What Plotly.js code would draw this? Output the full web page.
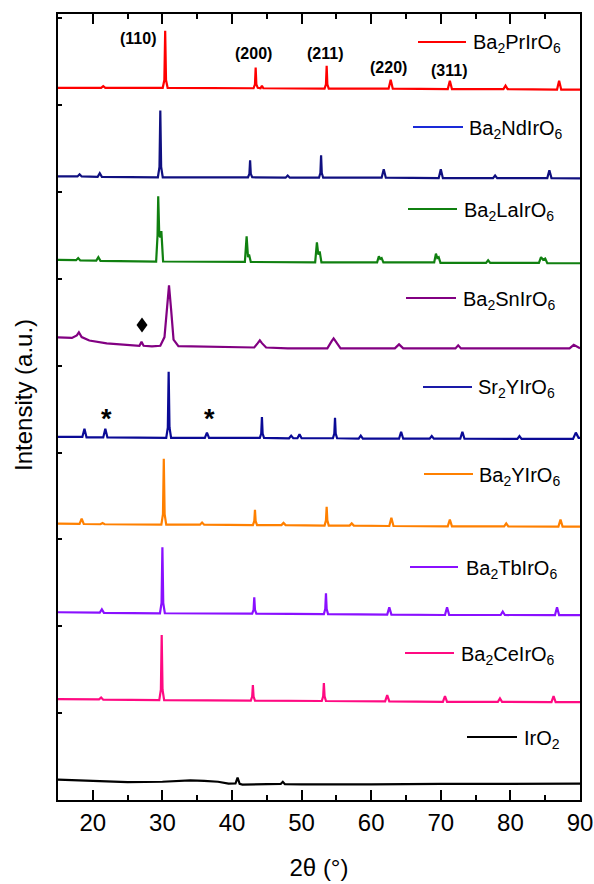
<!DOCTYPE html>
<html><head><meta charset="utf-8">
<script src="https://cdn.plot.ly/plotly-3.0.1.min.js"></script>
<style>html,body{margin:0;padding:0;background:#fff;}#chart{width:594px;height:884px;}</style>
</head><body><div id="chart"></div>
<script>
// ---- DATA (2θ in degrees, intensity normalised, a.u.) ----
const names = ["IrO<sub>2</sub>","Ba<sub>2</sub>CeIrO<sub>6</sub>","Ba<sub>2</sub>TbIrO<sub>6</sub>","Ba<sub>2</sub>YIrO<sub>6</sub>","Sr<sub>2</sub>YIrO<sub>6</sub>","Ba<sub>2</sub>SnIrO<sub>6</sub>","Ba<sub>2</sub>LaIrO<sub>6</sub>","Ba<sub>2</sub>NdIrO<sub>6</sub>","Ba<sub>2</sub>PrIrO<sub>6</sub>"];
const offsets = [0.2, 1.15, 2.15, 3.17, 4.17, 5.2, 6.2, 7.17, 8.19];

const irO2_x = [15,17,20,25,30,32,34,36,38,39.5,40.5,40.8,41.1,41.5,45,47.0,47.3,47.6,50,55,60,70,80,90];
const irO2_y = [0.035,0.028,0.015,0.005,0.01,0.02,0.025,0.02,0.01,-0.012,-0.01,0.058,-0.015,-0.023,-0.02,-0.015,0.01,-0.018,-0.02,-0.022,-0.02,-0.015,-0.015,-0.012];

const ce_x = [15,20.9,21.2,21.5,29.55,29.78,29.9,30.02,30.25,42.7,42.9,43.0,43.1,43.3,52.9,53.1,53.2,53.3,53.5,62.0,62.3,62.6,70.3,70.6,70.9,78.2,78.5,78.8,85.9,86.2,86.5,90];
const ce_y = [0.012,0.008,0.03,0.005,0,0.12,0.75,0.12,0,-0.005,0.04,0.173,0.04,-0.005,-0.01,0.045,0.196,0.045,-0.01,-0.015,0.058,-0.015,-0.02,0.046,-0.02,-0.02,0.02,-0.02,-0.022,0.046,-0.022,-0.022];

const tb_x = [15,21.0,21.3,21.6,29.65,29.88,30.0,30.12,30.35,42.9,43.1,43.2,43.3,43.5,53.2,53.4,53.5,53.6,53.8,62.3,62.6,62.9,70.6,70.9,71.2,78.6,78.9,79.2,86.4,86.7,87.0,90];
const tb_y = [0.012,0.008,0.045,0.005,0,0.12,0.76,0.12,0,-0.005,0.04,0.184,0.04,-0.005,-0.01,0.05,0.23,0.05,-0.01,-0.015,0.07,-0.015,-0.02,0.07,-0.02,-0.02,0.02,-0.02,-0.022,0.07,-0.022,-0.022];

const bay_x = [15,18.1,18.4,18.7,21.1,21.4,21.7,29.85,30.08,30.2,30.32,30.55,35.4,35.7,36.0,43.0,43.2,43.3,43.4,43.6,47.1,47.4,47.7,53.3,53.5,53.6,53.7,53.9,56.9,57.2,57.5,62.6,62.9,63.2,71.0,71.3,71.6,79.1,79.4,79.7,86.9,87.2,87.5,90];
const bay_y = [0.012,0.01,0.07,0.008,0.005,0.02,0.005,0,0.12,0.76,0.12,0,0,0.025,0,-0.005,0.04,0.17,0.04,-0.005,-0.005,0.02,-0.005,-0.01,0.05,0.207,0.05,-0.01,-0.01,0.015,-0.01,-0.015,0.08,-0.015,-0.02,0.06,-0.02,-0.02,0.015,-0.02,-0.022,0.06,-0.022,-0.022];

const sr_x = [15,18.5,18.8,19.1,21.5,21.8,22.1,30.55,30.78,30.9,31.02,31.25,36.1,36.4,36.7,44.0,44.2,44.3,44.4,44.6,48.2,48.5,48.8,49.4,49.7,50.0,54.5,54.7,54.8,54.9,55.1,58.2,58.5,58.8,64.0,64.3,64.6,68.4,68.7,69.0,72.8,73.1,73.4,81.0,81.3,81.6,89.0,89.4,89.8,90];
const sr_y = [0.01,0.01,0.105,0.005,0.005,0.105,0.005,0,0.12,0.76,0.12,0,0,0.06,0,0,0.05,0.24,0.05,0,-0.005,0.025,-0.005,-0.005,0.04,-0.005,-0.005,0.05,0.23,0.05,-0.005,-0.01,0.025,-0.01,-0.01,0.07,-0.01,-0.01,0.02,-0.01,-0.01,0.07,-0.01,-0.012,0.02,-0.012,-0.012,0.06,0.0,0.0];

const sn_x = [15,17.0,17.7,18.0,18.4,19.5,22,25,26.7,27.0,27.3,28.5,29.7,30.3,30.65,30.95,31.25,31.6,32.3,35,38,43.2,43.7,44.0,44.3,44.9,48,53.7,54.3,54.6,54.9,55.6,60,63.4,64.0,64.6,70,72.1,72.5,72.9,80,88.5,89.1,89.6,90];
const sn_y = [0.127,0.12,0.15,0.185,0.13,0.09,0.058,0.035,0.03,0.075,0.03,0.023,0.03,0.13,0.5,0.725,0.45,0.1,0.025,0.02,0.015,0.01,0.06,0.092,0.06,0.01,0.0,0.0,0.08,0.115,0.08,0.0,0.0,0.0,0.046,0.0,0.0,0.0,0.035,0.0,0.0,0.0,0.04,0.02,0.0];

const la_x = [15,17.6,17.9,18.2,20.5,20.8,21.1,25,29.1,29.3,29.4,29.55,29.7,29.85,30.1,41.85,42.1,42.3,42.45,42.7,51.95,52.2,52.4,52.6,52.85,60.85,61.1,61.3,61.5,61.75,69.05,69.3,69.5,69.7,69.95,76.5,76.8,77.1,84.1,84.4,84.7,85.0,85.3,90];
const la_y = [0.02,0.015,0.04,0.012,0.01,0.05,0.008,0.0,0,0.3,0.75,0.3,0.28,0.35,0,-0.005,0.29,0.05,0.08,-0.005,-0.01,0.22,0.08,0.115,-0.01,-0.01,0.06,0.03,0.04,-0.01,-0.01,0.09,0.04,0.05,-0.015,-0.015,0.015,-0.015,-0.015,0.05,0.02,0.035,-0.02,-0.02];

const nd_x = [15,17.8,18.1,18.4,20.7,21.0,21.3,29.35,29.58,29.7,29.82,30.05,42.3,42.5,42.6,42.7,42.9,47.7,48.0,48.3,52.5,52.7,52.8,52.9,53.1,61.5,61.8,62.1,69.7,70.0,70.3,77.5,77.8,78.1,85.3,85.6,85.9,90];
const nd_y = [0.01,0.01,0.035,0.01,0.005,0.046,0.005,0.0,0.12,0.77,0.12,0,0,0.04,0.196,0.04,0,-0.005,0.02,-0.005,-0.005,0.05,0.253,0.05,-0.005,-0.005,0.092,-0.005,-0.01,0.092,-0.01,-0.01,0.02,-0.01,-0.01,0.08,-0.01,-0.012];

const pr_x = [15,21.2,21.5,21.8,30.05,30.28,30.4,30.52,30.75,43.1,43.3,43.4,43.5,43.7,44.1,44.3,44.5,53.3,53.5,53.6,53.7,53.9,62.5,62.8,63.1,71.0,71.3,71.6,79.0,79.3,79.6,86.7,87.0,87.3,90];
const pr_y = [0.01,0.01,0.03,0.01,0.01,0.1,0.668,0.1,0.01,0.005,0.05,0.242,0.05,0.01,0.005,0.035,0.005,0,0.05,0.265,0.05,0,0,0.104,0,-0.005,0.092,-0.005,-0.005,0.035,-0.005,-0.01,0.092,-0.01,-0.01];

const hkl = ["(110)","(200)","(211)","(220)","(311)"];
const xTicks = [20,30,40,50,60,70,80,90];

// ---- STYLE ----
const seriesX = [irO2_x, ce_x, tb_x, bay_x, sr_x, sn_x, la_x, nd_x, pr_x];
const seriesY = [irO2_y, ce_y, tb_y, bay_y, sr_y, sn_y, la_y, nd_y, pr_y];
const colors = ["#000000","#FF0A82","#8A10FF","#FF8000","#0A0A96","#820082","#108010","#101080","#FF0000"];
const legColors = ["#000000","#FF0A82","#8A10FF","#FF8000","#1A1AA8","#820082","#108010","#1A2AD8","#FF0000"];
// legend positions in pixels: [lineStart, lineEnd, y, textStart]
const legPos = [[467,517,737,522],[405,454,653,459],[410,458,567,464],[424,473,474,477],[423,472,387,476],[406,456,298,461],[408,457,209,462],[413,463,127,467],[418,466,42,471]];
const hklPos = [[138,38],[253,53],[325,53],[388,67],[449,71]];

const L=58, R=580, T=14, B=800;
const PX = p => (p-L)/(R-L);
const PY = p => (B-p)/(B-T);
const FONT = "Arial, 'Liberation Sans', sans-serif";

const traces = seriesX.map((xs,i)=>({
  x: xs, y: seriesY[i].map(v=>v+offsets[i]), type:'scatter', mode:'lines',
  line:{color:colors[i], width:2.2}, hoverinfo:'skip', showlegend:false
}));

const shapes = [], annotations = [];
legPos.forEach((p,i)=>{
  shapes.push({type:'line', xref:'paper', yref:'paper', x0:PX(p[0]), x1:PX(p[1]), y0:PY(p[2]), y1:PY(p[2]), line:{color:legColors[i], width:2}});
  annotations.push({xref:'paper', yref:'paper', x:PX(p[3]), y:PY(p[2]+2), xanchor:'left', yanchor:'middle', text:names[i], showarrow:false, font:{family:FONT, size:20, color:'#000'}});
});
hkl.forEach((t,i)=>{
  annotations.push({xref:'paper', yref:'paper', x:PX(hklPos[i][0]), y:PY(hklPos[i][1]), xanchor:'center', yanchor:'middle', text:'<b>'+t+'</b>', showarrow:false, font:{family:FONT, size:16, color:'#000'}});
});
// asterisks and diamond markers for impurity peaks
[[106,413],[209,413]].forEach(p=>annotations.push({xref:'paper', yref:'paper', x:PX(p[0]), y:PY(p[1]+6), xanchor:'center', yanchor:'middle', text:'<b>*</b>', showarrow:false, font:{family:FONT, size:27, color:'#000'}}));
const dc=[142,325];
shapes.push({type:'path', xref:'paper', yref:'paper',
  path:`M ${PX(dc[0]-5.5)} ${PY(dc[1])} L ${PX(dc[0])} ${PY(dc[1]-7.5)} L ${PX(dc[0]+5.5)} ${PY(dc[1])} L ${PX(dc[0])} ${PY(dc[1]+7.5)} Z`,
  fillcolor:'#000', line:{color:'#000', width:0}});
// y-axis title
annotations.push({xref:'paper', yref:'paper', x:PX(23), y:PY(395), xanchor:'center', yanchor:'middle', text:'Intensity (a.u.)', textangle:-90, showarrow:false, font:{family:FONT, size:24, color:'#000'}});

const layout = {
  width:594, height:884, margin:{l:L, r:594-R, t:T, b:884-B},
  paper_bgcolor:'#fff', plot_bgcolor:'#fff', showlegend:false,
  font:{family:FONT, color:'#000'},
  xaxis:{range:[15,90], tickvals:xTicks, ticktext:xTicks.map(String), ticks:'inside', ticklen:10, tickwidth:2, tickcolor:'#000',
    minor:{tickvals:[25,35,45,55,65,75,85], ticks:'inside', ticklen:5, tickwidth:2, tickcolor:'#000'},
    showline:true, linewidth:2, linecolor:'#000', mirror:'ticks', showgrid:false, zeroline:false,
    tickfont:{family:FONT, size:24, color:'#000'},
    title:{text:'2θ (°)', font:{family:FONT, size:24, color:'#000'}, standoff:24}},
  yaxis:{range:[0,9.05], dtick:1, tick0:0, ticks:'inside', ticklen:4, tickwidth:2, tickcolor:'#000', showticklabels:false,
    showline:true, linewidth:2, linecolor:'#000', mirror:true, showgrid:false, zeroline:false},
  shapes, annotations
};
Plotly.newPlot('chart', traces, layout, {displayModeBar:false, staticPlot:true});
</script></body></html>
